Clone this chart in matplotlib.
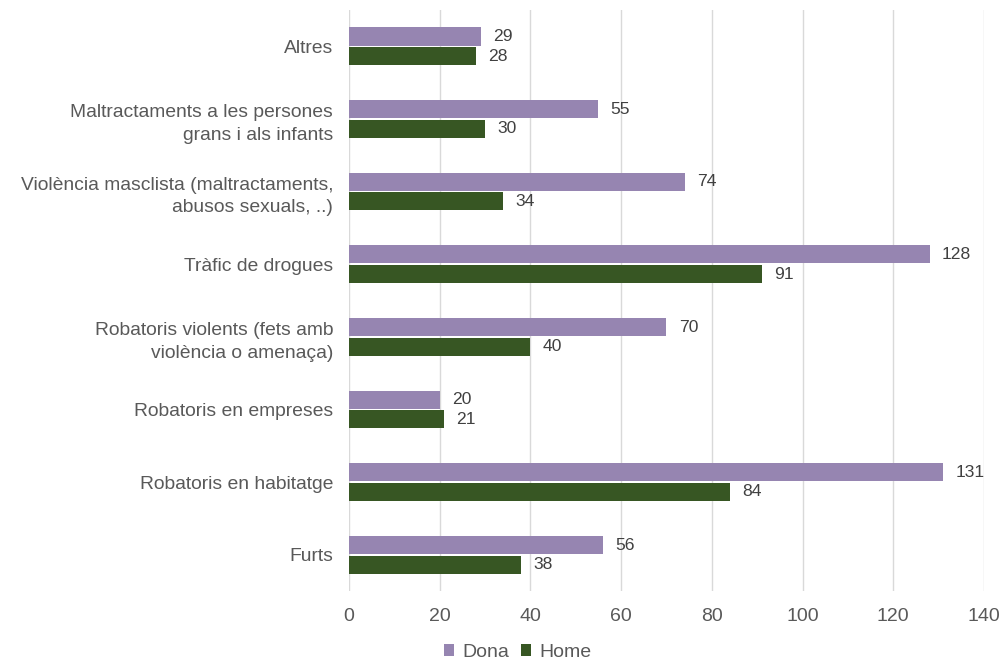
import matplotlib
matplotlib.use("Agg")
import matplotlib.pyplot as plt
import numpy as np

plt.rcParams['font.family'] = ['Liberation Sans', 'DejaVu Sans']

categories = [
    "Furts",
    "Robatoris en habitatge",
    "Robatoris en empreses",
    "Robatoris violents (fets amb\nviolència o amenaça)",
    "Tràfic de drogues",
    "Violència masclista (maltractaments,\nabusos sexuals, ..)",
    "Maltractaments a les persones\ngrans i als infants",
    "Altres",
]
dona = [56, 131, 20, 70, 128, 74, 55, 29]
home = [38, 84, 21, 40, 91, 34, 30, 28]
xticks = [0, 20, 40, 60, 80, 100, 120, 140]

c_dona = "#9685B1"
c_home = "#375623"
text_c = "#595959"

fig = plt.figure(figsize=(10.03, 6.62), dpi=100)
ax = fig.add_axes([0.348, 0.107, 0.633, 0.878])

y = np.arange(len(categories))
h = 0.25
b1 = ax.barh(y + h / 2 + 0.01, dona, height=h, color=c_dona, label="Dona", zorder=3)
b2 = ax.barh(y - h / 2 - 0.01, home, height=h, color=c_home, label="Home", zorder=3)

for bars, vals in ((b1, dona), (b2, home)):
    for r, v in zip(bars, vals):
        ax.text(r.get_width() + 2.7, r.get_y() + r.get_height() / 2, str(v),
                va="center", ha="left", fontsize=12.6, color="#404040")

ax.set_xlim(0, 140)
ax.set_ylim(-0.5, len(categories) - 0.5)
ax.set_xticks(xticks)
ax.set_xticklabels([str(t) for t in xticks], fontsize=14, color=text_c)
ax.set_yticks(y)
ax.set_yticklabels(categories, fontsize=13.9, color=text_c, linespacing=1.45)
ax.tick_params(axis="y", length=0, pad=11.5)
ax.tick_params(axis="x", length=0, pad=12)
ax.xaxis.grid(True, color="#D9D9D9", linewidth=1, zorder=0)
for s in ax.spines.values():
    s.set_visible(False)

fig.legend(handles=[b1, b2], labels=["Dona", "Home"], loc="center",
           bbox_to_anchor=(0.516, 0.015), ncol=2, frameon=False,
           fontsize=14, handlelength=0.55, handleheight=0.55,
           handletextpad=0.4, columnspacing=0.6, labelcolor=text_c)

fig.savefig("out.png", dpi=100)
